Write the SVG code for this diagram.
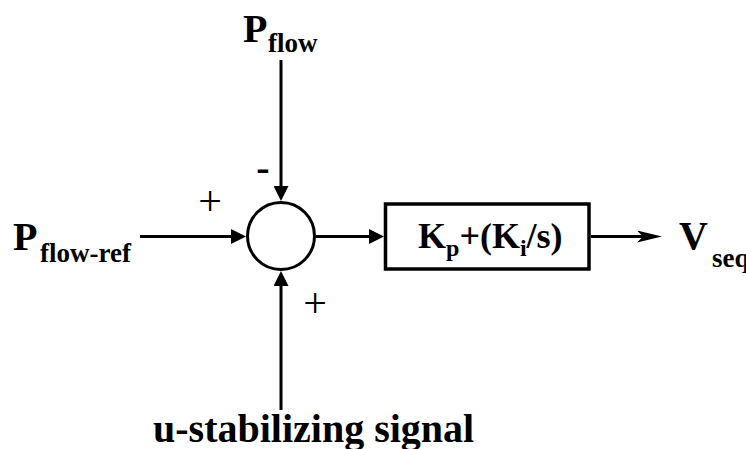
<svg xmlns="http://www.w3.org/2000/svg" width="746" height="449" viewBox="0 0 746 449">
  <style>
    .lbl { font-family: "Liberation Serif", "DejaVu Serif", serif; font-weight: bold; fill: #000; }
    .main { font-size: 40px; }
    .sub { font-size: 27px; }
    .blk { font-size: 36px; }
    .bsub { font-size: 24px; }
    .sign { font-family: "Liberation Serif", "DejaVu Serif", serif; font-size: 42px; fill: #000; }
    .wire { fill: none; stroke: #000; stroke-width: 3; }
    .shape { fill: #fff; stroke: #000; }
  </style>
  <defs>
    <marker id="tri" viewBox="0 0 15 15" refX="1" refY="7.5" markerWidth="15" markerHeight="15" markerUnits="userSpaceOnUse" orient="auto">
      <path d="M0,0 L15,7.5 L0,15 z" fill="#000"/>
    </marker>
    <marker id="notch" viewBox="0 0 25 12" refX="6" refY="6" markerWidth="25" markerHeight="12" markerUnits="userSpaceOnUse" orient="auto">
      <path d="M0,0 L25,6 L0,12 L6,6 z" fill="#000"/>
    </marker>
  </defs>
  <rect width="746" height="449" fill="#fff"/>

  <g id="connectors">
    <path class="wire" d="M140,236.5 H232" marker-end="url(#tri)"/>
    <path class="wire" d="M281,60 V187" marker-end="url(#tri)"/>
    <path class="wire" d="M281,410 V285" marker-end="url(#tri)"/>
    <path class="wire" d="M316,236.5 H370" marker-end="url(#tri)"/>
    <path class="wire" d="M591,236.5 H643" marker-end="url(#notch)"/>
  </g>

  <g id="sum">
    <circle class="shape" cx="281" cy="236" r="33.5" stroke-width="3"/>
    <text class="sign" x="210" y="215" text-anchor="middle">+</text>
    <text class="sign" x="315" y="317" text-anchor="middle">+</text>
    <text class="lbl main" x="263" y="181" text-anchor="middle">-</text>
  </g>

  <g id="controller">
    <rect class="shape" x="385.5" y="204" width="203.5" height="65" stroke-width="3.5"/>
    <text class="lbl blk" x="418" y="248">K<tspan class="bsub" dy="8">p</tspan><tspan dy="-8">+(K</tspan><tspan class="bsub" dy="8">i</tspan><tspan dy="-8">/s)</tspan></text>
  </g>

  <g id="p-flow">
    <text class="lbl main" x="243" y="42">P<tspan class="sub" x="268" y="52">flow</tspan></text>
  </g>

  <g id="p-flow-ref">
    <text class="lbl main" x="13" y="250">P<tspan class="sub" x="40" y="261.5">flow-ref</tspan></text>
  </g>

  <g id="v-seq">
    <text class="lbl main" x="679" y="249">V<tspan class="sub" x="712" y="267">seq</tspan></text>
  </g>

  <g id="u-signal">
    <text class="lbl main" x="153" y="442">u-stabilizing signal</text>
  </g>
</svg>
